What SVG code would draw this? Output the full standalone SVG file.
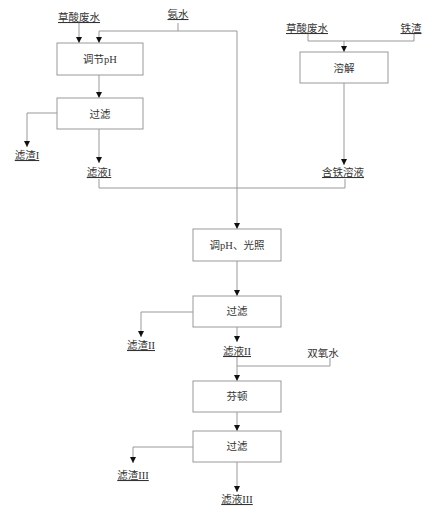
<svg xmlns="http://www.w3.org/2000/svg" width="444" height="507" viewBox="0 0 444 507">
<style>
.box{fill:#fff;stroke:#999;stroke-width:1}
.ln{fill:none;stroke:#999;stroke-width:1}
.t{font-family:"Liberation Serif","Noto Sans CJK SC",serif;font-size:10.5px;fill:#333;text-anchor:middle}
.u{text-decoration:underline}
</style>
<defs>
<marker id="ar" viewBox="0 0 6 6" refX="6" refY="3" markerWidth="6" markerHeight="6" orient="auto" markerUnits="userSpaceOnUse">
<path d="M0,0 L6,3 L0,6 Z" fill="#111"/>
</marker>
</defs>
<rect width="444" height="507" fill="#fff"/>
<g id="connectors">
<path class="ln" d="M79,23 V43" marker-end="url(#ar)"/>
<path class="ln" d="M178,23 V31"/>
<path class="ln" d="M237,31 H99 V43" marker-end="url(#ar)"/>
<path class="ln" d="M99,75 V98" marker-end="url(#ar)"/>
<path class="ln" d="M57,113 H27 V147" marker-end="url(#ar)"/>
<path class="ln" d="M99,129 V163" marker-end="url(#ar)"/>
<path class="ln" d="M99,179 V188 H345 V179"/>
<path class="ln" d="M237,31 V229" marker-end="url(#ar)"/>
<path class="ln" d="M308,34 V41 H414 V34"/>
<path class="ln" d="M344,41 V52" marker-end="url(#ar)"/>
<path class="ln" d="M344,83 V165" marker-end="url(#ar)"/>
<path class="ln" d="M237,261 V296" marker-end="url(#ar)"/>
<path class="ln" d="M193,312 H141 V337" marker-end="url(#ar)"/>
<path class="ln" d="M237,327 V342" marker-end="url(#ar)"/>
<path class="ln" d="M330,358 V366 H237"/>
<path class="ln" d="M237,357 V381" marker-end="url(#ar)"/>
<path class="ln" d="M237,412 V431" marker-end="url(#ar)"/>
<path class="ln" d="M193,447 H133 V463" marker-end="url(#ar)"/>
<path class="ln" d="M237,462 V492" marker-end="url(#ar)"/>
</g>
<g id="in1"><text class="t u" x="79" y="21">草酸废水</text></g>
<g id="in2"><text class="t u" x="178" y="18">氨水</text></g>
<g id="n1"><rect class="box" x="57" y="43" width="86" height="32"/><text class="t" x="100" y="63">调节pH</text></g>
<g id="n2"><rect class="box" x="57" y="98" width="86" height="31"/><text class="t" x="100" y="118">过滤</text></g>
<g id="out1"><text class="t u" x="27" y="159">滤渣I</text></g>
<g id="out2"><text class="t u" x="99" y="176">滤液I</text></g>
<g id="in3"><text class="t u" x="307" y="32">草酸废水</text></g>
<g id="in4"><text class="t u" x="411" y="32">铁渣</text></g>
<g id="n3"><rect class="box" x="300" y="52" width="88" height="31"/><text class="t" x="344" y="72">溶解</text></g>
<g id="out3"><text class="t u" x="343" y="176">含铁溶液</text></g>
<g id="n4"><rect class="box" x="193" y="229" width="88" height="32"/><text class="t" x="237" y="249">调pH、光照</text></g>
<g id="n5"><rect class="box" x="193" y="296" width="88" height="31"/><text class="t" x="237" y="315">过滤</text></g>
<g id="out4"><text class="t u" x="141" y="349">滤渣II</text></g>
<g id="out5"><text class="t u" x="237" y="355">滤液II</text></g>
<g id="in5"><text class="t" x="323" y="357">双氧水</text></g>
<g id="n6"><rect class="box" x="193" y="381" width="88" height="31"/><text class="t" x="237" y="400">芬顿</text></g>
<g id="n7"><rect class="box" x="193" y="431" width="88" height="31"/><text class="t" x="237" y="450">过滤</text></g>
<g id="out6"><text class="t u" x="133" y="479">滤渣III</text></g>
<g id="out7"><text class="t u" x="237" y="503">滤液III</text></g>
</svg>
